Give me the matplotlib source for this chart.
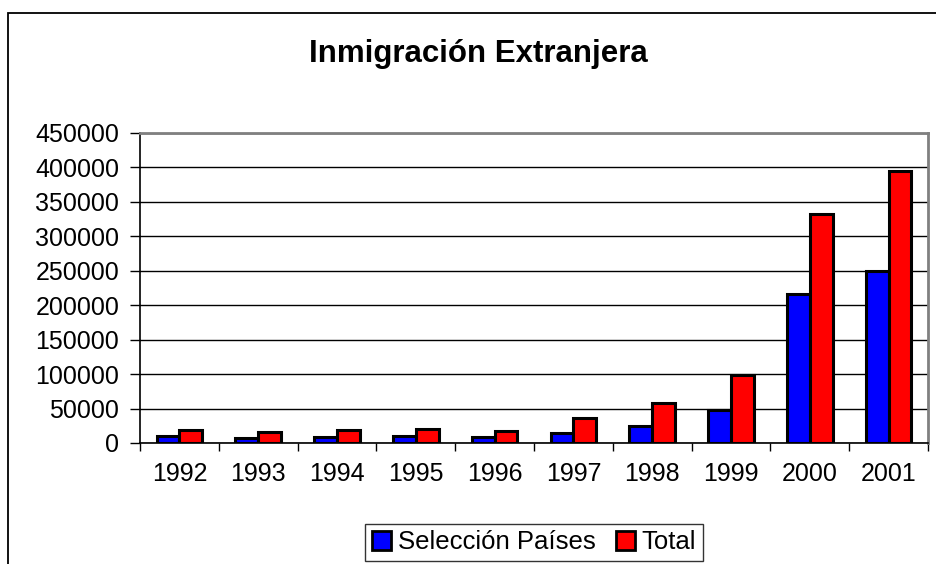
import matplotlib.pyplot as plt
import numpy as np
from matplotlib.patches import Rectangle

plt.rcParams['font.family'] = ['Liberation Sans', 'DejaVu Sans']

# values
years = ['1992', '1993', '1994', '1995', '1996', '1997', '1998', '1999', '2000', '2001']
seleccion = [10000, 7800, 9300, 10000, 8200, 15000, 24700, 47500, 216600, 250400]
total = [18500, 16000, 19000, 20000, 17000, 36000, 57700, 99400, 331700, 394600]

fig = plt.figure(figsize=(9.37, 5.64), dpi=100)
ax = fig.add_axes([140 / 937, 1 - 443 / 564, 788 / 937, 310 / 564])

# outer chart border
fig.patches.append(Rectangle((8 / 937, -0.05), 1.2, 1 - 13 / 564 + 0.05,
                             transform=fig.transFigure, fill=False,
                             edgecolor='black', linewidth=1.3))

x = np.arange(len(years))
w = 0.29
ax.bar(x - w / 2, seleccion, w, color='#0000ff', edgecolor='black', linewidth=2.2,
       label='Selección Países', zorder=3)
ax.bar(x + w / 2, total, w, color='#ff0000', edgecolor='black', linewidth=2.2,
       label='Total', zorder=3)

ax.set_xlim(-0.5, len(years) - 0.5)
ax.set_ylim(0, 450000)
ax.set_yticks(np.arange(0, 450001, 50000))
ax.yaxis.grid(True, color='black', linewidth=1, zorder=0)
ax.set_axisbelow(True)

ax.set_xticks(x)
ax.set_xticklabels(years, fontsize=18)
ax.set_xticks(np.arange(-0.5, len(years), 1), minor=True)
ax.tick_params(axis='x', which='major', length=0, pad=14)
ax.tick_params(axis='x', which='minor', length=6, direction='out', width=1)
ax.tick_params(axis='y', labelsize=18, length=7, width=1, direction='out', pad=8)

for s in ['top', 'right']:
    ax.spines[s].set_color('#808080')
    ax.spines[s].set_linewidth(2)
ax.spines['left'].set_linewidth(1.2)
ax.spines['bottom'].set_linewidth(1.2)

fig.text(478 / 937, 1 - 54 / 564, 'Inmigración Extranjera', ha='center', va='center',
         fontsize=22.5, fontweight='bold')

leg = fig.legend(loc='upper center', bbox_to_anchor=(534 / 937, 1 - 524 / 564), ncol=2,
                 fontsize=18.5, frameon=True, fancybox=False, edgecolor='black',
                 handlelength=0.75, handleheight=0.75, handletextpad=0.25,
                 columnspacing=0.8, borderpad=0.25, borderaxespad=0)
leg.get_frame().set_linewidth(1)
for h in leg.legend_handles:
    h.set_linewidth(2)

fig.savefig('out.png', dpi=100)
